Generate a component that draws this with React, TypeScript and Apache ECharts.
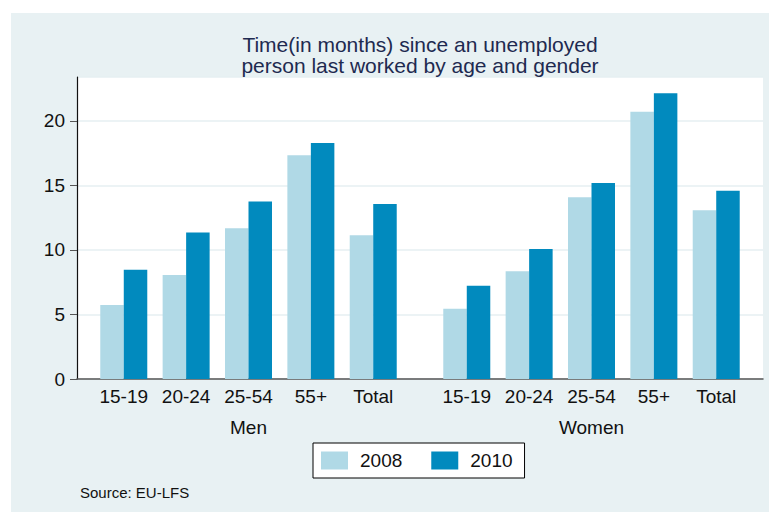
import React, { useEffect, useRef } from "react";
import * as echarts from "echarts";

const ageGroups = ["15-19", "20-24", "25-54", "55+", "Total"];
const genders = ["Men", "Women"];
const years = ["2008", "2010"];
const men2008 = [5.73, 8.06, 11.68, 17.33, 11.14];
const men2010 = [8.47, 11.35, 13.76, 18.29, 13.55];
const women2008 = [5.44, 8.34, 14.09, 20.7, 13.08];
const women2010 = [7.23, 10.08, 15.18, 22.15, 14.59];
const yTicks = [0, 5, 10, 15, 20];

// slot layout on a 22-slot category axis (spacers between bars and between genders)
const SLOTS = 22;
const menSlots = [1, 3, 5, 7, 9];
const womenSlots = [12, 14, 16, 18, 20];
const genderSlots = [5, 16];

const FONT = "'Liberation Sans', Arial, Helvetica, sans-serif";

export default function App() {
  const ref = useRef<HTMLDivElement>(null);
  useEffect(() => {
    if (!ref.current) return;
    const chart = echarts.init(ref.current, undefined, { renderer: "svg" });

    const catData: string[] = new Array(SLOTS).fill("");
    menSlots.forEach((s, i) => (catData[s] = ageGroups[i]));
    womenSlots.forEach((s, i) => (catData[s] = ageGroups[i]));
    const genderData: string[] = new Array(SLOTS).fill("");
    genderSlots.forEach((s, i) => (genderData[s] = genders[i]));

    const build = (m: number[], w: number[]) => {
      const arr: (number | null)[] = new Array(SLOTS).fill(null);
      menSlots.forEach((s, i) => (arr[s] = m[i]));
      womenSlots.forEach((s, i) => (arr[s] = w[i]));
      return arr;
    };

    chart.setOption({
      animation: false,
      textStyle: { fontFamily: FONT },
      title: {
        text: "Time(in months) since an unemployed\nperson last worked by age and gender",
        left: 420,
        textAlign: "center",
        top: 34,
        padding: 0,
        textStyle: {
          fontFamily: FONT,
          fontSize: 21,
          lineHeight: 21,
          fontWeight: "normal",
          color: "#1E2A50",
        },
      },
      graphic: [
        {
          type: "rect",
          z: -100,
          shape: { x: 11, y: 13, width: 758, height: 499 },
          style: { fill: "#E8F1F3" },
          silent: true,
        },
        {
          type: "text",
          x: 80,
          y: 492,
          style: {
            text: "Source: EU-LFS",
            fontFamily: FONT,
            fontSize: 15,
            fill: "#111",
            verticalAlign: "middle",
          },
        },
      ],
      legend: {
        data: years,
        left: 313,
        top: 443,
        padding: [8, 12, 8, 8],
        itemGap: 29,
        itemWidth: 27,
        itemHeight: 18,
        icon: "rect",
        backgroundColor: "#fff",
        borderColor: "#000",
        borderWidth: 1,
        borderRadius: 0,
        textStyle: { fontFamily: FONT, fontSize: 19, color: "#111", padding: [0, 0, 0, 7] },
      },
      grid: {
        left: 77,
        top: 77,
        right: 6,
        bottom: 133,
        show: true,
        backgroundColor: "#fff",
        borderWidth: 0,
      },
      xAxis: [
        {
          type: "category",
          data: catData,
          boundaryGap: true,
          axisLine: { show: true, lineStyle: { color: "#555", width: 1.5 } },
          axisTick: { show: false },
          axisLabel: { interval: 0, fontSize: 19, color: "#111", margin: 8, fontFamily: FONT },
          splitLine: { show: false },
        },
        {
          type: "category",
          data: genderData,
          position: "bottom",
          offset: 31,
          axisLine: { show: false },
          axisTick: { show: false },
          axisLabel: { interval: 0, fontSize: 19, color: "#111", margin: 8, fontFamily: FONT },
          splitLine: { show: false },
        },
      ],
      yAxis: {
        type: "value",
        min: yTicks[0],
        max: 23.4,
        interval: yTicks[1] - yTicks[0],
        axisLine: { show: true, lineStyle: { color: "#111", width: 1.2 } },
        axisTick: { show: true, length: 7, lineStyle: { color: "#555" } },
        axisLabel: { fontSize: 19, color: "#111", margin: 12, showMaxLabel: false, fontFamily: FONT },
        splitLine: { show: true, lineStyle: { color: "#E6EFF2", width: 1.5 } },
      },
      series: [
        {
          name: years[0],
          type: "bar",
          xAxisIndex: 0,
          data: build(men2008, women2008),
          barWidth: 23.5,
          barGap: "0%",
          itemStyle: { color: "#B0D9E6" },
        },
        {
          name: years[1],
          type: "bar",
          xAxisIndex: 0,
          data: build(men2010, women2010),
          barWidth: 23.5,
          barGap: "0%",
          itemStyle: { color: "#018ABE" },
        },
      ],
    });
    return () => chart.dispose();
  }, []);
  return (
    <div
      ref={ref}
      style={{ position: "absolute", left: 0, top: 0, width: 769, height: 512, background: "#fff" }}
    />
  );
}
